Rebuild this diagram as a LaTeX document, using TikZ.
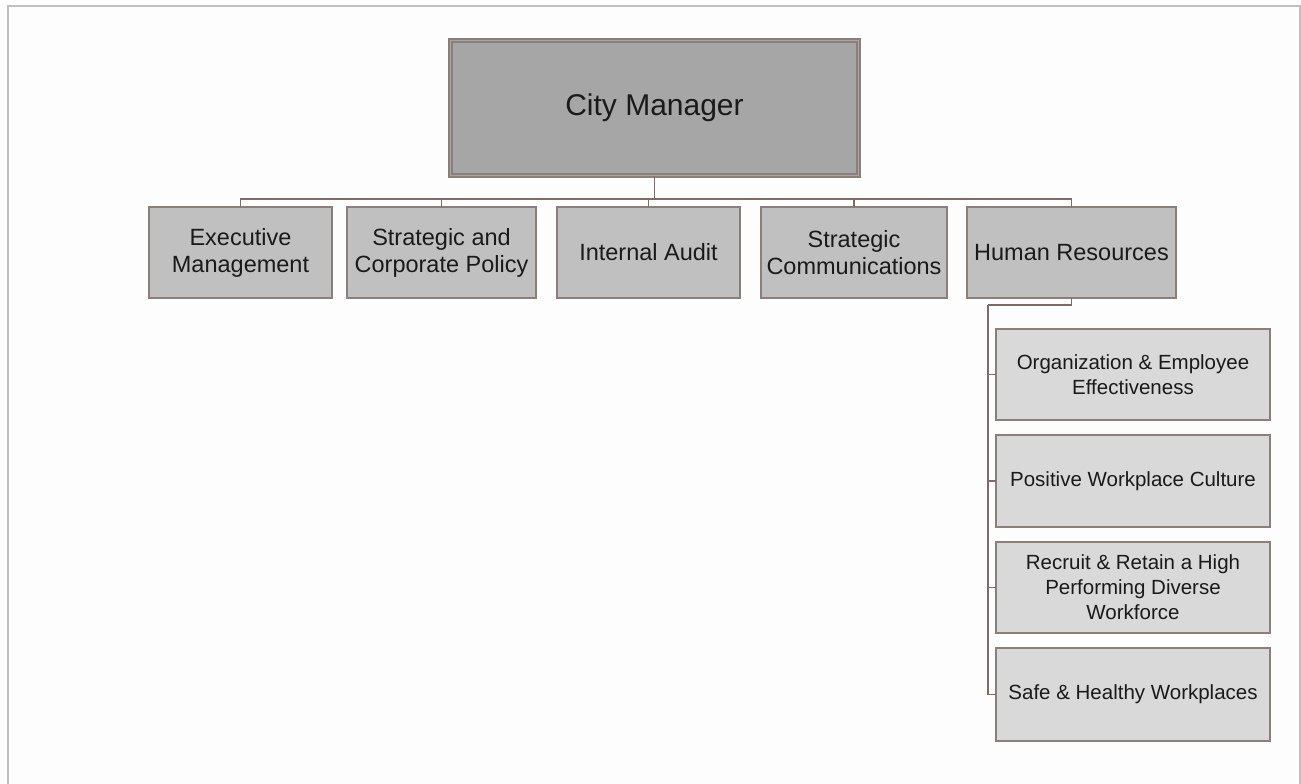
\documentclass[tikz,border=0pt]{standalone}
\usepackage{fontspec}
\setmainfont{Liberation Sans}
\definecolor{bordc}{HTML}{8C7E7A}
\definecolor{linec}{HTML}{7F6B66}
\definecolor{framec}{HTML}{C0C0C0}
\definecolor{topfill}{HTML}{A6A6A6}
\definecolor{midfill}{HTML}{C0C0C0}
\definecolor{subfill}{HTML}{D9D9D9}
\definecolor{txt}{HTML}{1A1A1A}
\definecolor{bg}{HTML}{FDFDFD}
\tikzset{
  base/.style={draw=bordc, line width=1.2pt, align=center, inner sep=0pt, outer sep=0pt, text=txt},
  topbox/.style={base, fill=topfill, minimum width=411pt, minimum height=138pt, font=\fontsize{30}{36}\selectfont},
  midbox/.style={base, fill=midfill, minimum width=#1, minimum height=91pt, font=\fontsize{23.5}{27}\selectfont},
  subbox/.style={base, fill=subfill, minimum width=274pt, minimum height=#1, font=\fontsize{20.5}{25}\selectfont},
  conn/.style={draw=linec, line width=1.2pt},
  framest/.style={draw=framec, line width=2pt}
}
\begin{document}
\begin{tikzpicture}[x=1pt,y=-1pt]
\useasboundingbox (0,0) rectangle (1301,784);
\fill[bg] (0,0) rectangle (1301,784);
\draw[framest] (7.5,784) -- (7.5,6.5) -- (1300,6.5) -- (1300,784);

\node[topbox] (cm) at (654.5,108) {City Manager};
\draw[bordc, line width=1.2pt] ([shift={(3,3)}]cm.north west) rectangle ([shift={(-3,-3)}]cm.south east);

\node[midbox=183pt] (em) at (240.5,252.5) {Executive\\Management};
\node[midbox=189pt] (scp) at (441.5,252.5) {Strategic and\\Corporate Policy};
\node[midbox=183pt] (ia) at (648.5,252.5) {Internal Audit};
\node[midbox=186pt] (sc) at (854,252.5) {Strategic\\Communications};
\node[midbox=209pt] (hr) at (1071.5,252.5) {Human Resources};

\node[subbox=91pt] (oee) at (1133,374.5) {Organization \& Employee\\Effectiveness};
\node[subbox=92pt] (pwc) at (1133,481) {Positive Workplace Culture};
\node[subbox=91pt] (rr) at (1133,587.5) {Recruit \& Retain a High\\Performing Diverse\\Workforce};
\node[subbox=93pt] (shw) at (1133,694.5) {Safe \& Healthy Workplaces};

\coordinate (bus) at (654.5,199);
\draw[conn] (cm.south) -- (bus);
\foreach \n in {em,scp,ia,sc,hr} { \draw[conn] (\n.north) |- (bus); }

\coordinate (spine) at (988,305);
\draw[conn] (hr.south) |- (spine);
\foreach \n in {oee,pwc,rr,shw} { \draw[conn] (spine) |- (\n.west); }
\end{tikzpicture}
\end{document}
